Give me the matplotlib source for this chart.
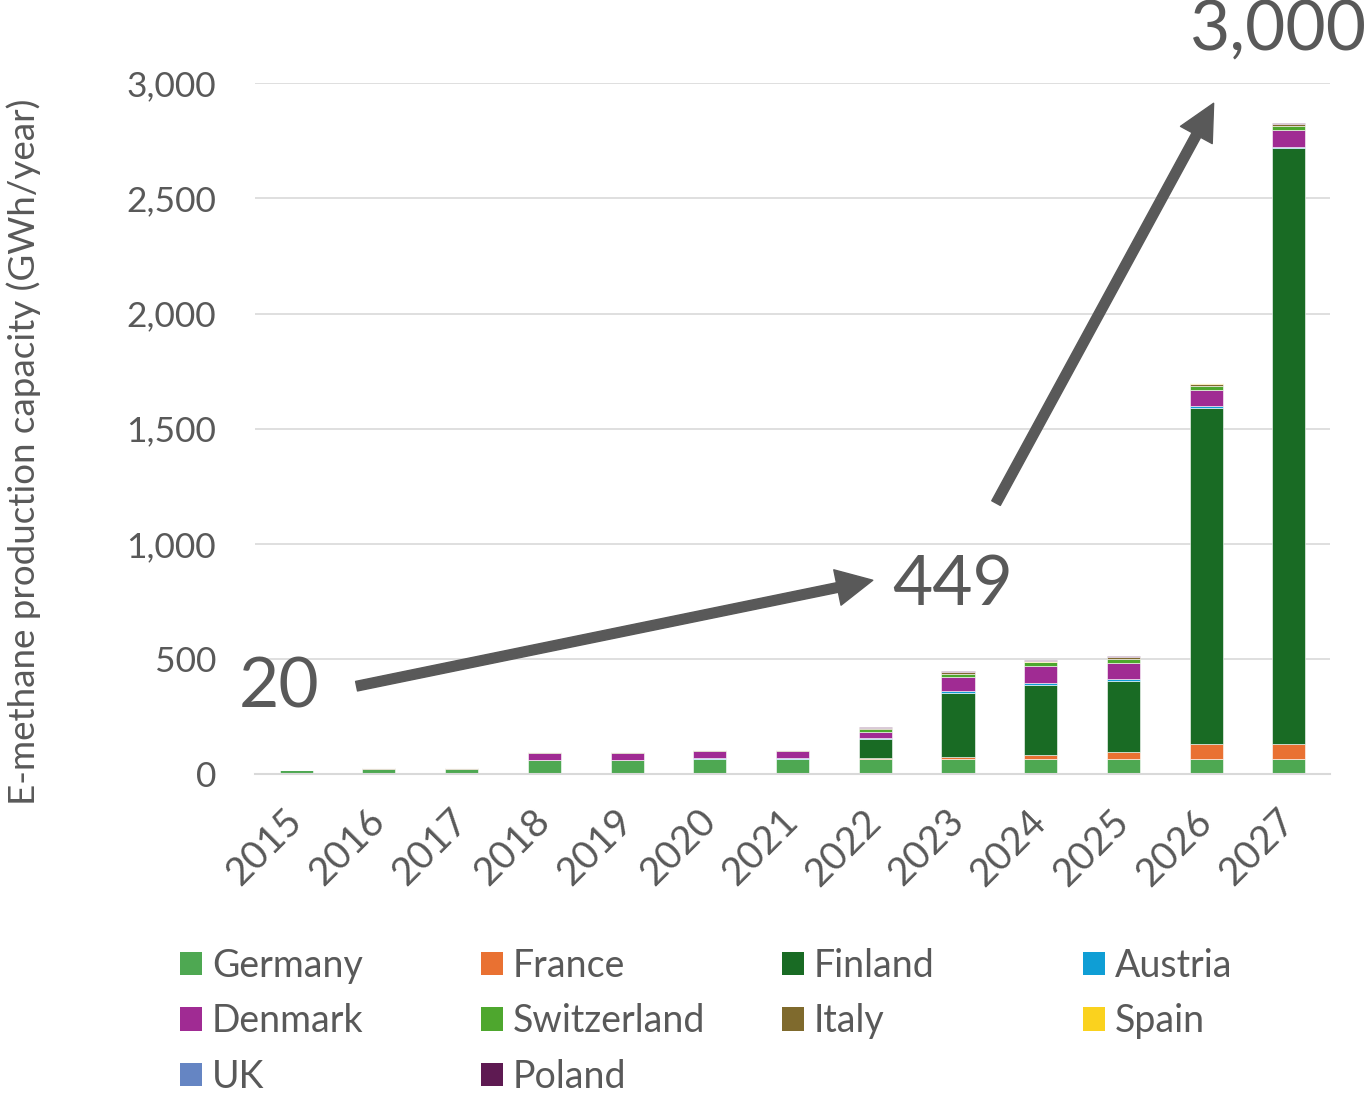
import matplotlib
matplotlib.use("Agg")
import matplotlib.pyplot as plt
from matplotlib.patches import Patch
import numpy as np

plt.rcParams["font.family"] = ["Lato", "DejaVu Sans"]

years = ["2015", "2016", "2017", "2018", "2019", "2020", "2021",
         "2022", "2023", "2024", "2025", "2026", "2027"]

germany = [18, 22, 22, 60, 60, 68, 68, 66, 65, 65, 68, 68, 68]
france = [0, 0, 0, 0, 0, 0, 0, 4, 10, 17, 27, 63, 63]
finland = [0, 0, 0, 0, 0, 0, 0, 82, 278, 307, 310, 1460, 2586]
austria = [0, 0, 0, 3, 3, 3, 3, 5, 7, 7, 7, 7, 7]
denmark = [0, 0, 0, 30, 30, 30, 30, 27, 62, 72, 71, 70, 71]
switzerland = [0, 0, 0, 0, 0, 0, 0, 12, 15, 17, 19, 19, 19]
italy = [2, 3, 3, 3, 3, 3, 3, 4, 5, 4, 6, 8, 8]
spain = [0, 0, 0, 0, 0, 0, 0, 0, 1, 1, 1, 2, 2]
uk = [0, 0, 0, 0, 0, 0, 0, 1, 1, 1, 1, 1, 1]
poland = [0, 0, 0, 0, 0, 0, 0, 2, 2, 5, 4, 2, 2]

series = [
    ("Germany", germany, "#4EA852"),
    ("France", france, "#E97132"),
    ("Finland", finland, "#196B24"),
    ("Austria", austria, "#0F9ED5"),
    ("Denmark", denmark, "#A02B93"),
    ("Switzerland", switzerland, "#4EA72E"),
    ("Italy", italy, "#7F6A2D"),
    ("Spain", spain, "#FAD21E"),
    ("UK", uk, "#6585C3"),
    ("Poland", poland, "#5E1A52"),
]

# annotation values
start_val, mid_val, end_val = "20", "449", "3,000"

grey = "#595959"
fig = plt.figure(figsize=(13.7, 10.95), dpi=100)
ax = fig.add_axes([0.186, 0.293, 0.785, 0.631])

x = np.arange(len(years))
bottom = np.zeros(len(years))
handles = {}
for name, vals, col in series:
    v = np.array(vals, dtype=float)
    ax.bar(x, v, 0.4, bottom=bottom, color=col, edgecolor="white", linewidth=0.4)
    bottom += v
    handles[name] = Patch(facecolor=col, edgecolor="none")

ax.set_xlim(-0.5, len(years) - 0.5)
ax.set_ylim(0, 3000)
ax.set_yticks(np.arange(0, 3001, 500))
ax.set_yticklabels([f"{t:,}" for t in range(0, 3001, 500)])
ax.grid(axis="y", color="#D9D9D9", linewidth=1.2)
ax.set_axisbelow(True)
for s in ["top", "right", "left"]:
    ax.spines[s].set_visible(False)
ax.spines["bottom"].set_color("#D9D9D9")
ax.spines["bottom"].set_linewidth(1.5)
ax.tick_params(axis="both", length=0, labelcolor=grey)
ax.tick_params(axis="y", pad=28, labelsize=25.5)
ax.set_xticks(x)
ax.set_xticklabels(years, rotation=45, ha="right", va="center", rotation_mode="anchor")
ax.tick_params(axis="x", pad=30, labelsize=28)
fig.text(0.017, 0.587, "E-methane production capacity (GWh/year)", fontsize=26.5,
         color=grey, rotation=90, ha="center", va="center")

arrow = dict(width=7, headwidth=26, headlength=26, color=grey, shrink=0)
ax.annotate("", xy=(6.97, 842), xytext=(0.73, 382), arrowprops=arrow, annotation_clip=False)
ax.annotate("", xy=(11.09, 2913), xytext=(8.46, 1177), arrowprops=arrow, annotation_clip=False)
ax.text(0.28, 373, start_val, fontsize=50, color=grey, ha="right", va="center", clip_on=False)
ax.text(7.2, 821, mid_val, fontsize=50, color=grey, ha="left", va="center", clip_on=False)
ax.text(12.94, 3230, end_val, fontsize=50, color=grey, ha="right", va="center", clip_on=False)

# legend laid out as four fixed-width columns
columns = [["Germany", "Denmark", "UK"], ["France", "Switzerland", "Poland"],
           ["Finland", "Italy"], ["Austria", "Spain"]]
col_x = [0.1314, 0.3511, 0.5708, 0.7905]
for names, cx in zip(columns, col_x):
    leg = fig.legend([handles[n] for n in names], names, loc="upper left",
                     bbox_to_anchor=(cx, 0.1345), frameon=False, fontsize=27,
                     labelcolor=grey, handlelength=0.58, handleheight=0.58,
                     handletextpad=0.27, labelspacing=0.52, borderpad=0,
                     borderaxespad=0)

fig.savefig("out.png", dpi=100)
